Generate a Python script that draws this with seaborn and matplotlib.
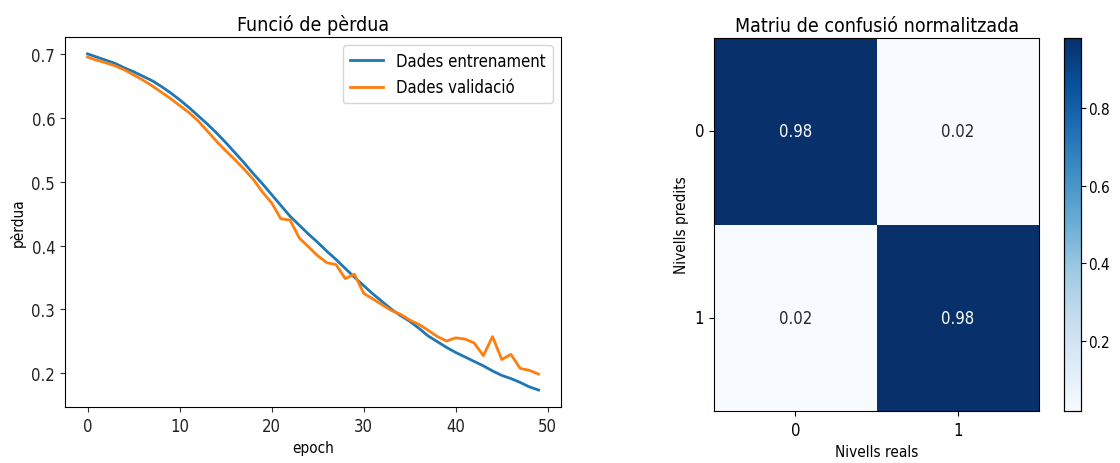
import numpy as np
import pandas as pd
import matplotlib
matplotlib.use("Agg")
import matplotlib.pyplot as plt
from matplotlib import font_manager
import seaborn as sns

# Training history (loss per epoch)
epochs = list(range(50))
train_loss = [
    0.701, 0.696, 0.691, 0.686, 0.679, 0.673, 0.666, 0.659, 0.650, 0.640,
    0.629, 0.617, 0.604, 0.591, 0.577, 0.562, 0.546, 0.530, 0.513, 0.497,
    0.480, 0.463, 0.446, 0.432, 0.418, 0.405, 0.391, 0.378, 0.364, 0.350,
    0.337, 0.324, 0.312, 0.300, 0.290, 0.281, 0.270, 0.258, 0.249, 0.240,
    0.232, 0.225, 0.218, 0.211, 0.203, 0.196, 0.191, 0.185, 0.178, 0.173,
]
val_loss = [
    0.696, 0.691, 0.687, 0.682, 0.676, 0.668, 0.660, 0.651, 0.641, 0.631,
    0.620, 0.609, 0.596, 0.580, 0.564, 0.549, 0.535, 0.520, 0.504, 0.484,
    0.467, 0.442, 0.440, 0.412, 0.398, 0.384, 0.373, 0.370, 0.348, 0.355,
    0.325, 0.316, 0.307, 0.298, 0.292, 0.283, 0.276, 0.267, 0.257, 0.250,
    0.255, 0.253, 0.247, 0.227, 0.257, 0.221, 0.229, 0.207, 0.204, 0.198,
]
series_labels = ["Dades entrenament", "Dades validació"]

# Normalised confusion matrix
class_labels = ["0", "1"]
conf_matrix = [[0.98, 0.02],
               [0.02, 0.98]]

# Prefer the condensed DejaVu face when it is installed
stretch = "normal"
for f in font_manager.fontManager.ttflist:
    if f.name == "DejaVu Sans" and f.stretch in ("condensed", "semi-condensed", 87.5, 75):
        stretch = "condensed"
plt.rcParams["font.family"] = "DejaVu Sans"
plt.rcParams["font.stretch"] = stretch
condensed = stretch == "condensed"

fig = plt.figure(figsize=(11.2, 4.64), dpi=100)
ax1 = fig.add_axes([0.058, 0.121, 0.443, 0.797])
ax2 = fig.add_axes([0.6375, 0.112, 0.2905, 0.804])
cax = fig.add_axes([0.950, 0.112, 0.015, 0.804])

fs = 12 if condensed else 11
tfs = 14 if condensed else 12
lfs = 11 if condensed else 10

# Loss curves
sns.lineplot(x=epochs, y=train_loss, ax=ax1, color="#1f77b4", lw=2,
             label=series_labels[0])
sns.lineplot(x=epochs, y=val_loss, ax=ax1, color="#ff7f0e", lw=2,
             label=series_labels[1])
ax1.set_title("Funció de pèrdua", fontsize=tfs, pad=5)
ax1.set_xlabel("epoch", fontsize=lfs)
ax1.set_ylabel("pèrdua", fontsize=lfs)
ax1.set_xticks([0, 10, 20, 30, 40, 50])
ax1.set_yticks([0.2, 0.3, 0.4, 0.5, 0.6, 0.7])
ax1.tick_params(labelsize=fs, colors="#333333", labelcolor="#222222")
ax1.legend(loc="upper right", fontsize=fs)

# Confusion matrix heatmap
cm = pd.DataFrame(conf_matrix, index=class_labels, columns=class_labels)
sns.heatmap(cm, ax=ax2, cmap="Blues", annot=True, fmt=".2f",
            annot_kws={"fontsize": fs}, cbar_ax=cax, square=False)
ax2.set_title("Matriu de confusió normalitzada", fontsize=tfs, pad=5)
ax2.set_xlabel("Nivells reals", fontsize=lfs)
ax2.set_ylabel("Nivells predits", fontsize=lfs)
ax2.tick_params(labelsize=fs, length=3.5)
ax2.set_yticklabels(class_labels, rotation=0)
for sp in ax2.spines.values():
    sp.set_visible(True)
    sp.set_color("black")
    sp.set_linewidth(0.8)
cax.set_yticks([0.2, 0.4, 0.6, 0.8])
cax.tick_params(labelsize=fs - 1, length=3.5, pad=1.5)
for sp in cax.spines.values():
    sp.set_visible(True)
    sp.set_linewidth(0.8)

fig.savefig("out.png", dpi=100)
